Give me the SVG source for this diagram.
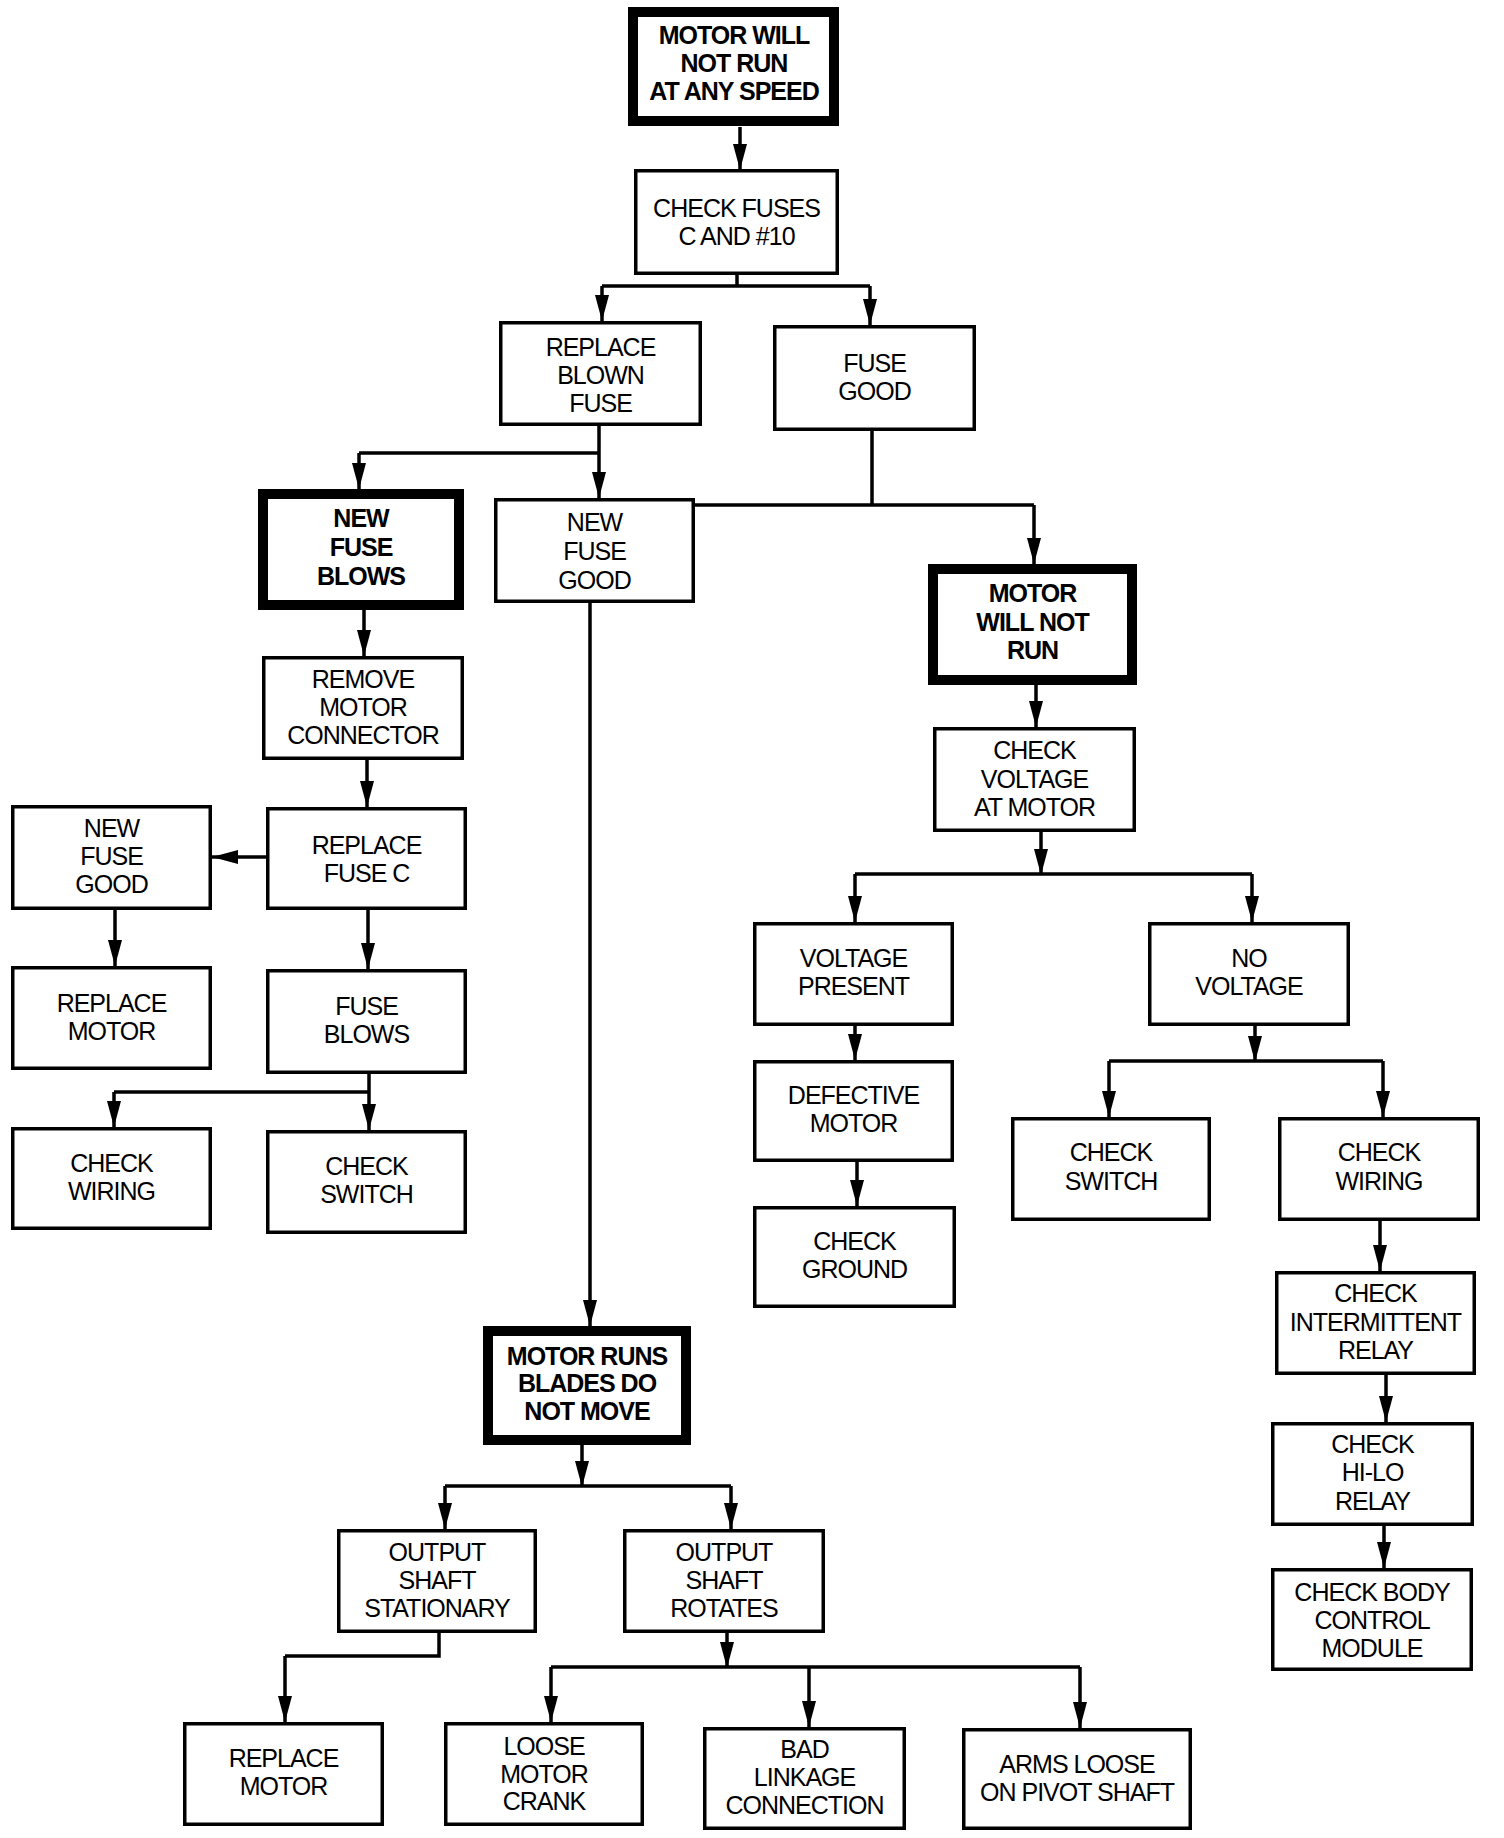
<svg xmlns="http://www.w3.org/2000/svg" width="1504" height="1838" viewBox="0 0 1504 1838">
<style>
.b{fill:#fff;stroke:#000;stroke-width:3.5}
.k{fill:#fff;stroke:#000;stroke-width:10}
.c{fill:none;stroke:#000;stroke-width:3.5;stroke-linejoin:miter}
.a{marker-end:url(#ah)}
text{font-family:"Liberation Sans",Arial,sans-serif;font-size:25px;letter-spacing:-1px;text-anchor:middle;fill:#000}
.tb{font-weight:bold}
</style>
<defs>
<marker id="ah" viewBox="0 0 26 14" refX="26" refY="7" markerWidth="26" markerHeight="14" markerUnits="userSpaceOnUse" orient="auto">
<path d="M0,0 L26,7 L0,14 z" fill="#000"/>
</marker>
</defs>
<rect width="1504" height="1838" fill="#fff"/>
<g id="connectors">
<path class="c a" d="M740,127 V170"/>
<path class="c" d="M737,275 V286 M602,286 H870"/>
<path class="c a" d="M602,286 V321"/>
<path class="c a" d="M870,286 V325"/>
<path class="c" d="M599,426 V453 M359,453 H599"/>
<path class="c a" d="M359,453 V489"/>
<path class="c a" d="M599,453 V498"/>
<path class="c" d="M872,431 V505 M695,505 H1034"/>
<path class="c a" d="M1034,505 V564"/>
<path class="c a" d="M590,603 V1326"/>
<path class="c a" d="M364,610 V656"/>
<path class="c a" d="M367,760 V807"/>
<path class="c a" d="M266,857 H212"/>
<path class="c a" d="M115,910 V966"/>
<path class="c a" d="M368,910 V969"/>
<path class="c a" d="M369,1074 V1130"/>
<path class="c" d="M369,1092 H114"/>
<path class="c a" d="M114,1092 V1127"/>
<path class="c a" d="M1036,685 V727"/>
<path class="c a" d="M1041,832 V875"/>
<path class="c" d="M855,874 H1252"/>
<path class="c a" d="M855,874 V922"/>
<path class="c a" d="M1252,874 V922"/>
<path class="c a" d="M855,1026 V1060"/>
<path class="c a" d="M857,1162 V1206"/>
<path class="c a" d="M1255,1026 V1062"/>
<path class="c" d="M1109,1061 H1383"/>
<path class="c a" d="M1109,1061 V1117"/>
<path class="c a" d="M1383,1061 V1117"/>
<path class="c a" d="M1380,1221 V1271"/>
<path class="c a" d="M1386,1375 V1422"/>
<path class="c a" d="M1384,1526 V1568"/>
<path class="c a" d="M582,1445 V1487"/>
<path class="c" d="M445,1486 H731"/>
<path class="c a" d="M445,1486 V1529"/>
<path class="c a" d="M731,1486 V1529"/>
<path class="c" d="M439,1633 V1656 H285"/>
<path class="c a" d="M285,1656 V1722"/>
<path class="c a" d="M727,1633 V1668"/>
<path class="c" d="M551,1667 H1080"/>
<path class="c a" d="M551,1667 V1722"/>
<path class="c a" d="M809,1667 V1727"/>
<path class="c a" d="M1080,1667 V1728"/>
</g>
<g id="n1"><rect class="k" x="633" y="12" width="201" height="109"/><text class="tb" x="734" y="44">MOTOR WILL</text><text class="tb" x="734" y="72">NOT RUN</text><text class="tb" x="734" y="100">AT ANY SPEED</text></g>
<g id="n2"><rect class="b" x="635.75" y="170.75" width="201.5" height="102.5"/><text x="736.5" y="217">CHECK FUSES</text><text x="736.5" y="245">C AND #10</text></g>
<g id="n3"><rect class="b" x="500.75" y="322.75" width="199.5" height="101.5"/><text x="600.5" y="356">REPLACE</text><text x="600.5" y="384">BLOWN</text><text x="600.5" y="412">FUSE</text></g>
<g id="n4"><rect class="b" x="774.75" y="326.75" width="199.5" height="102.5"/><text x="874.5" y="372">FUSE</text><text x="874.5" y="400">GOOD</text></g>
<g id="n5"><rect class="k" x="263" y="494" width="196" height="111"/><text class="tb" x="361" y="527">NEW</text><text class="tb" x="361" y="556">FUSE</text><text class="tb" x="361" y="585">BLOWS</text></g>
<g id="n6"><rect class="b" x="495.75" y="499.75" width="197.5" height="101.5"/><text x="594.5" y="531">NEW</text><text x="594.5" y="560">FUSE</text><text x="594.5" y="589">GOOD</text></g>
<g id="n7"><rect class="k" x="933" y="569" width="199" height="111"/><text class="tb" x="1032.5" y="602">MOTOR</text><text class="tb" x="1032.5" y="631">WILL NOT</text><text class="tb" x="1032.5" y="659">RUN</text></g>
<g id="n8"><rect class="b" x="263.75" y="657.75" width="198.5" height="100.5"/><text x="363" y="688">REMOVE</text><text x="363" y="716">MOTOR</text><text x="363" y="744">CONNECTOR</text></g>
<g id="n9"><rect class="b" x="934.75" y="728.75" width="199.5" height="101.5"/><text x="1034.5" y="759">CHECK</text><text x="1034.5" y="788">VOLTAGE</text><text x="1034.5" y="816">AT MOTOR</text></g>
<g id="n10"><rect class="b" x="12.75" y="806.75" width="197.5" height="101.5"/><text x="111.5" y="837">NEW</text><text x="111.5" y="865">FUSE</text><text x="111.5" y="893">GOOD</text></g>
<g id="n11"><rect class="b" x="267.75" y="808.75" width="197.5" height="99.5"/><text x="366.5" y="854">REPLACE</text><text x="366.5" y="882">FUSE C</text></g>
<g id="n12"><rect class="b" x="12.75" y="967.75" width="197.5" height="100.5"/><text x="111.5" y="1012">REPLACE</text><text x="111.5" y="1040">MOTOR</text></g>
<g id="n13"><rect class="b" x="267.75" y="970.75" width="197.5" height="101.5"/><text x="366.5" y="1015">FUSE</text><text x="366.5" y="1043">BLOWS</text></g>
<g id="n14"><rect class="b" x="12.75" y="1128.75" width="197.5" height="99.5"/><text x="111.5" y="1172">CHECK</text><text x="111.5" y="1200">WIRING</text></g>
<g id="n15"><rect class="b" x="267.75" y="1131.75" width="197.5" height="100.5"/><text x="366.5" y="1175">CHECK</text><text x="366.5" y="1203">SWITCH</text></g>
<g id="n16"><rect class="b" x="754.75" y="923.75" width="197.5" height="100.5"/><text x="853.5" y="967">VOLTAGE</text><text x="853.5" y="995">PRESENT</text></g>
<g id="n17"><rect class="b" x="1149.75" y="923.75" width="198.5" height="100.5"/><text x="1249" y="967">NO</text><text x="1249" y="995">VOLTAGE</text></g>
<g id="n18"><rect class="b" x="754.75" y="1061.75" width="197.5" height="98.5"/><text x="853.5" y="1104">DEFECTIVE</text><text x="853.5" y="1132">MOTOR</text></g>
<g id="n19"><rect class="b" x="1012.75" y="1118.75" width="196.5" height="100.5"/><text x="1111" y="1161">CHECK</text><text x="1111" y="1190">SWITCH</text></g>
<g id="n20"><rect class="b" x="1279.75" y="1118.75" width="198.5" height="100.5"/><text x="1379" y="1161">CHECK</text><text x="1379" y="1190">WIRING</text></g>
<g id="n21"><rect class="b" x="754.75" y="1207.75" width="199.5" height="98.5"/><text x="854.5" y="1250">CHECK</text><text x="854.5" y="1278">GROUND</text></g>
<g id="n22"><rect class="b" x="1276.75" y="1272.75" width="197.5" height="100.5"/><text x="1375.5" y="1302">CHECK</text><text x="1375.5" y="1331">INTERMITTENT</text><text x="1375.5" y="1359">RELAY</text></g>
<g id="n23"><rect class="k" x="488" y="1331" width="198" height="109"/><text class="tb" x="587" y="1365">MOTOR RUNS</text><text class="tb" x="587" y="1392">BLADES DO</text><text class="tb" x="587" y="1420">NOT MOVE</text></g>
<g id="n24"><rect class="b" x="1272.75" y="1423.75" width="199.5" height="100.5"/><text x="1372.5" y="1453">CHECK</text><text x="1372.5" y="1481">HI-LO</text><text x="1372.5" y="1510">RELAY</text></g>
<g id="n25"><rect class="b" x="1272.75" y="1569.75" width="198.5" height="99.5"/><text x="1372" y="1601">CHECK BODY</text><text x="1372" y="1629">CONTROL</text><text x="1372" y="1657">MODULE</text></g>
<g id="n26"><rect class="b" x="338.75" y="1530.75" width="196.5" height="100.5"/><text x="437" y="1561">OUTPUT</text><text x="437" y="1589">SHAFT</text><text x="437" y="1617">STATIONARY</text></g>
<g id="n27"><rect class="b" x="624.75" y="1530.75" width="198.5" height="100.5"/><text x="724" y="1561">OUTPUT</text><text x="724" y="1589">SHAFT</text><text x="724" y="1617">ROTATES</text></g>
<g id="n28"><rect class="b" x="184.75" y="1723.75" width="197.5" height="100.5"/><text x="283.5" y="1767">REPLACE</text><text x="283.5" y="1795">MOTOR</text></g>
<g id="n29"><rect class="b" x="445.75" y="1723.75" width="196.5" height="100.5"/><text x="544" y="1755">LOOSE</text><text x="544" y="1783">MOTOR</text><text x="544" y="1810">CRANK</text></g>
<g id="n30"><rect class="b" x="704.75" y="1728.75" width="199.5" height="99.5"/><text x="804.5" y="1758">BAD</text><text x="804.5" y="1786">LINKAGE</text><text x="804.5" y="1814">CONNECTION</text></g>
<g id="n31"><rect class="b" x="963.75" y="1729.75" width="226.5" height="98.5"/><text x="1077" y="1773">ARMS LOOSE</text><text x="1077" y="1801">ON PIVOT SHAFT</text></g>
</svg>
